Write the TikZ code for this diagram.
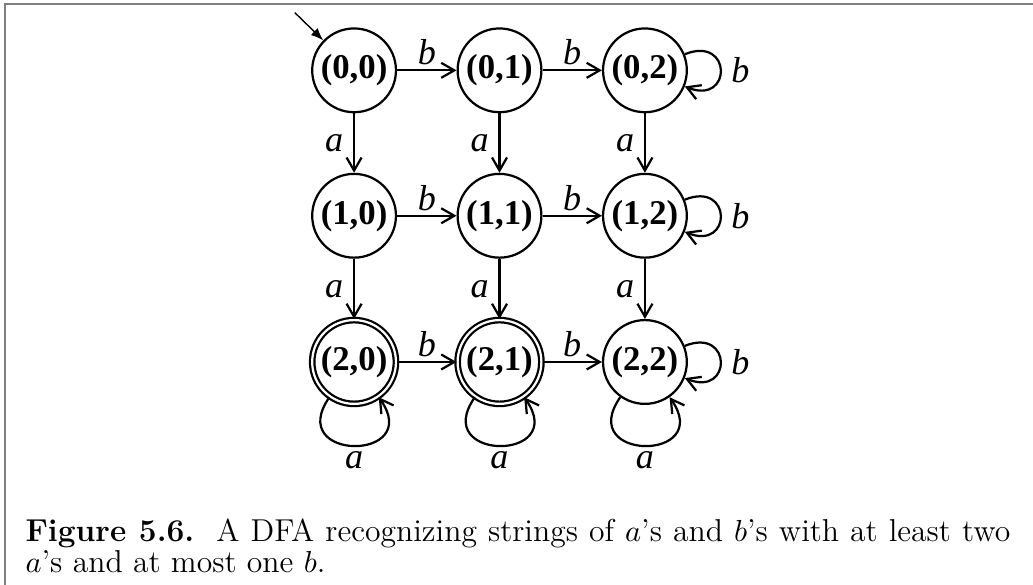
\documentclass[tikz,border=0pt]{standalone}
\usepackage{fontspec}
\newfontfamily\timesfont{Liberation Serif}
\usetikzlibrary{arrows.meta}
\begin{document}
\begin{tikzpicture}
    \useasboundingbox (0,0) rectangle (13.07,-7.401);
    %%%%%%%%%%%%%%%%%%%%%%%%%%%%%%%%%%%%%% Cadre
    \draw[gray,line width=0.7pt] (13.07,-0.05)--(0.06,-0.05)--(0.06,-7.401);

    %%%%%%%%%%%%%%%%%%%%%%%%%%%%%%%%%%%%%% Etats
    \tikzstyle{etat}=[circle,draw,line width=0.8pt,minimum size=1.06cm,inner sep=0pt,font=\timesfont\bfseries\fontsize{12.5}{14}\selectfont]
    \tikzstyle{final}=[etat,double,double distance=0.8pt]
    \node[etat] (n00) at (4.48,-0.89){(0,0)};
    \node[etat] (n01) at (6.32,-0.89){(0,1)};
    \node[etat] (n02) at (8.16,-0.89){(0,2)};
    \node[etat] (n10) at (4.48,-2.73){(1,0)};
    \node[etat] (n11) at (6.32,-2.73){(1,1)};
    \node[etat] (n12) at (8.16,-2.73){(1,2)};
    \node[final] (n20) at (4.48,-4.58){(2,0)};
    \node[final] (n21) at (6.32,-4.58){(2,1)};
    \node[etat] (n22) at (8.16,-4.58){(2,2)};

    %%%%%%%%%%%%%%%%%%%%%%%%%%%%%%%%%%%%%% Etat initial
    \coordinate (depart) at (3.73,-0.16);
    \draw[-{Latex[length=4.5pt,width=3.5pt]},line width=0.5pt] (depart)--(n00);

    %%%%%%%%%%%%%%%%%%%%%%%%%%%%%%%%%%%%%% Transitions
    \tikzstyle{fleche}=[-{Straight Barb[length=4.7pt,width=5.4pt]},line width=0.8pt]
    \tikzstyle{lettre}=[inner sep=1.5pt,font=\timesfont\itshape\fontsize{13}{15}\selectfont]
    \tikzstyle{boucle}=[fleche,out=-125,in=-55,distance=10mm]
    \tikzstyle{boucled}=[fleche,out=22,in=-22,distance=6.5mm]

    \draw[fleche] (n00)-- node[lettre,above]{b} (n01);
    \draw[fleche] (n01)-- node[lettre,above]{b} (n02);
    \draw[fleche] (n10)-- node[lettre,above]{b} (n11);
    \draw[fleche] (n11)-- node[lettre,above]{b} (n12);
    \draw[fleche] (n20)-- node[lettre,above]{b} (n21);
    \draw[fleche] (n21)-- node[lettre,above]{b} (n22);

    \draw[fleche] (n00)-- node[lettre,left=2pt]{a} (n10);
    \draw[fleche] (n01)-- node[lettre,left=2pt]{a} (n11);
    \draw[fleche] (n02)-- node[lettre,left=2pt]{a} (n12);
    \draw[fleche] (n10)-- node[lettre,left=2pt]{a} (n20);
    \draw[fleche] (n11)-- node[lettre,left=2pt]{a} (n21);
    \draw[fleche] (n12)-- node[lettre,left=2pt]{a} (n22);

    \draw[boucled] (n02) to node[lettre,right=2pt]{b} (n02);
    \draw[boucled] (n12) to node[lettre,right=2pt]{b} (n12);
    \draw[boucled] (n22) to node[lettre,right=2pt]{b} (n22);

    \draw[boucle] (n20) to node[lettre,below]{a} (n20);
    \draw[boucle] (n21) to node[lettre,below]{a} (n21);
    \draw[boucle] (n22) to node[lettre,below]{a} (n22);

    %%%%%%%%%%%%%%%%%%%%%%%%%%%%%%%%%%%%%% Legende
    \node[anchor=north west,inner sep=0pt,text width=12.46cm,align=justify,font=\fontsize{11.4}{11}\selectfont] (legende) at (0.316,-6.56){\noindent\textbf{Figure 5.6.}\ \ A DFA recognizing strings of $a$'s and $b$'s with at least two\linebreak $a$'s and at most one $b$.};
\end{tikzpicture}
\end{document}
